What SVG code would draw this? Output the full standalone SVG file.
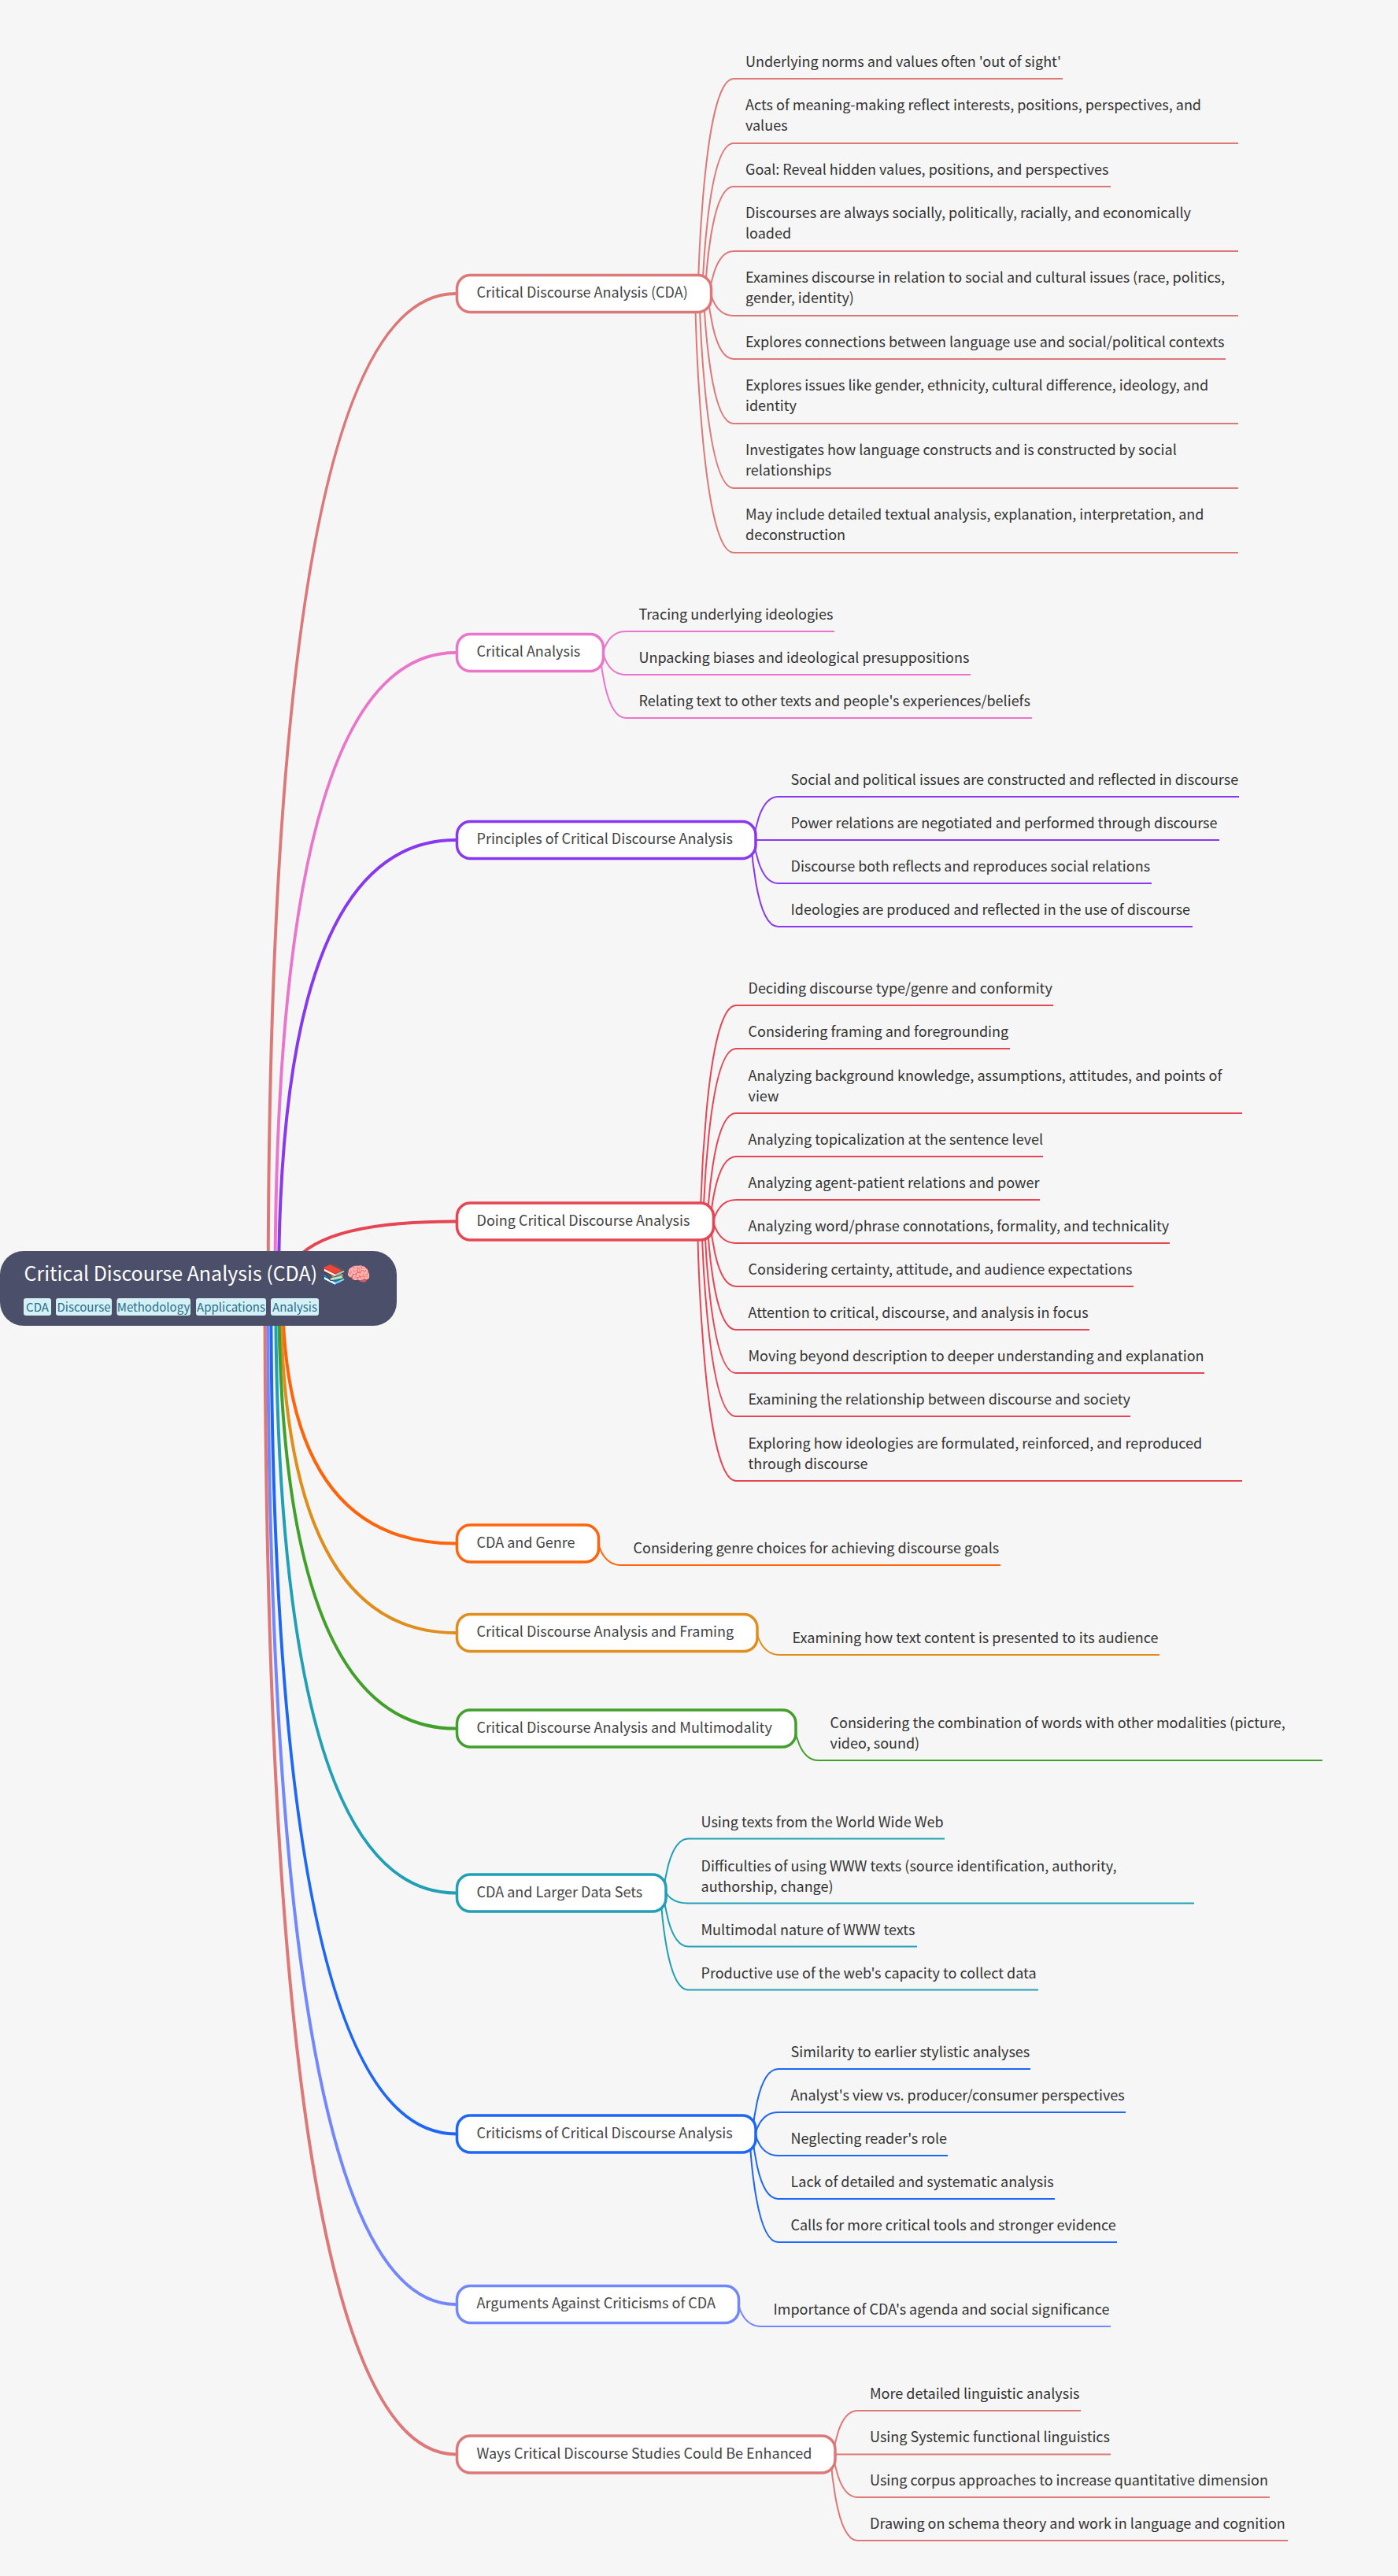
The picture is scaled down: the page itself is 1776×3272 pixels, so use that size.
<svg xmlns="http://www.w3.org/2000/svg" width="1776" height="3272" viewBox="0 0 1776 3272">
<style>
text{font-family:"Noto Sans CJK SC","Noto Sans",sans-serif}
.bg{fill:#f6f6f6}
.n{fill:#fff;stroke-width:3.5}
.t{font-size:18px;fill:#444446}
.c{font-size:18px;fill:#333}
.m{fill:none;stroke-width:4}
.s{fill:none;stroke-width:2}
.root{fill:#4c4f69}
.rt{font-size:25px;fill:#fff}
.tag{fill:#d6f0f8}
.tt{font-size:15px;fill:#276f86;text-anchor:middle}
.c0{stroke:#dd7878}.c1{stroke:#ea76cb}.c2{stroke:#8839ef}.c3{stroke:#e64553}.c4{stroke:#fe640b}.c5{stroke:#df8e1d}.c6{stroke:#40a02b}.c7{stroke:#209fb5}.c8{stroke:#1e66f5}.c9{stroke:#7287fd}
</style>
<rect class="bg" width="1776" height="3272"/>
<g id="connectors">
<path class="m c0" d="M340.7 1636Q340.7 373 579 373"/>
<path class="m c1" d="M349.5 1636Q349.5 829 579 829"/>
<path class="m c2" d="M354 1636Q354 1067 579 1067"/>
<path class="m c3" d="M363.4 1636Q363.4 1551.5 579 1551.5"/>
<path class="m c4" d="M358.8 1636Q358.8 1960.6 579 1960.6"/>
<path class="m c5" d="M356.6 1636Q356.6 2074 579 2074"/>
<path class="m c6" d="M354.2 1636Q354.2 2195.6 579 2195.6"/>
<path class="m c7" d="M350.2 1636Q350.2 2404.5 579 2404.5"/>
<path class="m c8" d="M344.3 1636Q344.3 2710.5 579 2710.5"/>
<path class="m c9" d="M340.1 1636Q340.1 2927 579 2927"/>
<path class="m c0" d="M336.5 1636Q336.5 3117.5 579 3117.5"/>
<path class="s c0" d="M886.8 373C886.8 373 891.8 100 932 100H1350"/>
<path class="s c0" d="M892.3 373C892.3 373 897.3 182 932 182H1573"/>
<path class="s c0" d="M895.9 373C895.9 373 900.9 237 932 237H1411"/>
<path class="s c0" d="M901.4 373C901.4 373 906.4 319 932 319H1573"/>
<path class="s c0" d="M903.1 373C903.1 373 908.1 401 932 401H1573"/>
<path class="s c0" d="M899.5 373C899.5 373 904.5 456 932 456H1557"/>
<path class="s c0" d="M894 373C894 373 899 538 932 538H1573"/>
<path class="s c0" d="M888.5 373C888.5 373 893.5 620 932 620H1573"/>
<path class="s c0" d="M883.1 373C883.1 373 888.1 702 932 702H1573"/>
<path class="s c1" d="M766.2 829C766.2 829 771.2 802 795 802H1060"/>
<path class="s c1" d="M766.1 829C766.1 829 771.1 857 795 857H1233"/>
<path class="s c1" d="M762.5 829C762.5 829 767.5 912 795 912H1311"/>
<path class="s c2" d="M957.8 1067C957.8 1067 962.8 1012 988.5 1012H1574"/>
<path class="s c2" d="M961 1067H1549"/>
<path class="s c2" d="M957.8 1067C957.8 1067 962.8 1122 988.5 1122H1463"/>
<path class="s c2" d="M954.2 1067C954.2 1067 959.2 1177 988.5 1177H1515"/>
<path class="s c3" d="M889.7 1551.5C889.7 1551.5 894.7 1277 935 1277H1338"/>
<path class="s c3" d="M893.4 1551.5C893.4 1551.5 898.4 1332 935 1332H1283"/>
<path class="s c3" d="M898.8 1551.5C898.8 1551.5 903.8 1414 935 1414H1578"/>
<path class="s c3" d="M902.5 1551.5C902.5 1551.5 907.5 1469 935 1469H1325"/>
<path class="s c3" d="M906.2 1551.5C906.2 1551.5 911.2 1524 935 1524H1321"/>
<path class="s c3" d="M906.2 1551.5C906.2 1551.5 911.2 1579 935 1579H1486"/>
<path class="s c3" d="M902.5 1551.5C902.5 1551.5 907.5 1634 935 1634H1440"/>
<path class="s c3" d="M898.8 1551.5C898.8 1551.5 903.8 1689 935 1689H1384"/>
<path class="s c3" d="M895.2 1551.5C895.2 1551.5 900.2 1744 935 1744H1530"/>
<path class="s c3" d="M891.5 1551.5C891.5 1551.5 896.5 1799 935 1799H1436"/>
<path class="s c3" d="M886 1551.5C886 1551.5 891 1881 935 1881H1578"/>
<path class="s c4" d="M760.2 1960.6C760.2 1960.6 765.2 1988 789 1988H1271"/>
<path class="s c5" d="M961.6 2074C961.6 2074 966.6 2102 990.5 2102H1473"/>
<path class="s c6" d="M1009.8 2195.6C1009.8 2195.6 1014.8 2236 1039.5 2236H1680"/>
<path class="s c7" d="M842.9 2404.5C842.9 2404.5 847.9 2335.5 874.5 2335.5H1200"/>
<path class="s c7" d="M846.6 2404.5C846.6 2404.5 851.6 2417.5 874.5 2417.5H1517"/>
<path class="s c7" d="M843 2404.5C843 2404.5 848 2472.5 874.5 2472.5H1165"/>
<path class="s c7" d="M839.3 2404.5C839.3 2404.5 844.3 2527.5 874.5 2527.5H1319"/>
<path class="s c8" d="M956 2710.5C956 2710.5 961 2628 988.5 2628H1309"/>
<path class="s c8" d="M959.7 2710.5C959.7 2710.5 964.7 2683 988.5 2683H1430"/>
<path class="s c8" d="M959.7 2710.5C959.7 2710.5 964.7 2738 988.5 2738H1204"/>
<path class="s c8" d="M956 2710.5C956 2710.5 961 2793 988.5 2793H1340"/>
<path class="s c8" d="M952.3 2710.5C952.3 2710.5 957.3 2848 988.5 2848H1419"/>
<path class="s c9" d="M938.1 2927C938.1 2927 943.1 2955 967 2955H1411"/>
<path class="s c0" d="M1058.8 3117.5C1058.8 3117.5 1063.8 3062 1089.5 3062H1373"/>
<path class="s c0" d="M1062 3117.5H1411"/>
<path class="s c0" d="M1058.8 3117.5C1058.8 3117.5 1063.8 3172 1089.5 3172H1613"/>
<path class="s c0" d="M1055.2 3117.5C1055.2 3117.5 1060.2 3227 1089.5 3227H1636"/>
</g>
<g id="root">
<rect class="root" x="0" y="1589" width="504" height="95" rx="30"/>
<text class="rt" x="30.6" y="1627">Critical Discourse Analysis (CDA) 📚🧠</text>
<rect class="tag" x="30" y="1649" width="35" height="22" rx="3"/><text class="tt" x="47.5" y="1666">CDA</text>
<rect class="tag" x="71" y="1649" width="71" height="22" rx="3"/><text class="tt" x="106.5" y="1666">Discourse</text>
<rect class="tag" x="148.5" y="1649" width="93.5" height="22" rx="3"/><text class="tt" x="195" y="1666">Methodology</text>
<rect class="tag" x="249" y="1649" width="89" height="22" rx="3"/><text class="tt" x="293.5" y="1666">Applications</text>
<rect class="tag" x="344" y="1649" width="61" height="22" rx="3"/><text class="tt" x="374.5" y="1666">Analysis</text>
</g>
<g id="n1"><rect class="n c0" x="580.5" y="349.5" width="323" height="47" rx="17"/><text class="t" x="605.5" y="378">Critical Discourse Analysis (CDA)</text></g>
<g id="n1-kids">
<text class="c" x="947" y="85">Underlying norms and values often 'out of sight'</text>
<text class="c" x="947" y="140">Acts of meaning-making reflect interests, positions, perspectives, and</text>
<text class="c" x="947" y="166">values</text>
<text class="c" x="947" y="222">Goal: Reveal hidden values, positions, and perspectives</text>
<text class="c" x="947" y="277">Discourses are always socially, politically, racially, and economically</text>
<text class="c" x="947" y="303">loaded</text>
<text class="c" x="947" y="359">Examines discourse in relation to social and cultural issues (race, politics,</text>
<text class="c" x="947" y="385">gender, identity)</text>
<text class="c" x="947" y="441">Explores connections between language use and social/political contexts</text>
<text class="c" x="947" y="496">Explores issues like gender, ethnicity, cultural difference, ideology, and</text>
<text class="c" x="947" y="522">identity</text>
<text class="c" x="947" y="578">Investigates how language constructs and is constructed by social</text>
<text class="c" x="947" y="604">relationships</text>
<text class="c" x="947" y="660">May include detailed textual analysis, explanation, interpretation, and</text>
<text class="c" x="947" y="686">deconstruction</text>
</g>
<g id="n2"><rect class="n c1" x="580.5" y="805.5" width="186" height="47" rx="17"/><text class="t" x="605.5" y="834">Critical Analysis</text></g>
<g id="n2-kids">
<text class="c" x="811.5" y="787">Tracing underlying ideologies</text>
<text class="c" x="811.5" y="842">Unpacking biases and ideological presuppositions</text>
<text class="c" x="811.5" y="897">Relating text to other texts and people's experiences/beliefs</text>
</g>
<g id="n3"><rect class="n c2" x="580.5" y="1043.5" width="379.5" height="47" rx="17"/><text class="t" x="605.5" y="1072">Principles of Critical Discourse Analysis</text></g>
<g id="n3-kids">
<text class="c" x="1004.5" y="997">Social and political issues are constructed and reflected in discourse</text>
<text class="c" x="1004.5" y="1052">Power relations are negotiated and performed through discourse</text>
<text class="c" x="1004.5" y="1107">Discourse both reflects and reproduces social relations</text>
<text class="c" x="1004.5" y="1162">Ideologies are produced and reflected in the use of discourse</text>
</g>
<g id="n4"><rect class="n c3" x="580.5" y="1528" width="326" height="47" rx="17"/><text class="t" x="605.5" y="1556.5">Doing Critical Discourse Analysis</text></g>
<g id="n4-kids">
<text class="c" x="950.5" y="1262">Deciding discourse type/genre and conformity</text>
<text class="c" x="950.5" y="1317">Considering framing and foregrounding</text>
<text class="c" x="950.5" y="1373">Analyzing background knowledge, assumptions, attitudes, and points of</text>
<text class="c" x="950.5" y="1399">view</text>
<text class="c" x="950.5" y="1454">Analyzing topicalization at the sentence level</text>
<text class="c" x="950.5" y="1509">Analyzing agent-patient relations and power</text>
<text class="c" x="950.5" y="1564">Analyzing word/phrase connotations, formality, and technicality</text>
<text class="c" x="950.5" y="1619">Considering certainty, attitude, and audience expectations</text>
<text class="c" x="950.5" y="1674">Attention to critical, discourse, and analysis in focus</text>
<text class="c" x="950.5" y="1729">Moving beyond description to deeper understanding and explanation</text>
<text class="c" x="950.5" y="1784">Examining the relationship between discourse and society</text>
<text class="c" x="950.5" y="1840">Exploring how ideologies are formulated, reinforced, and reproduced</text>
<text class="c" x="950.5" y="1866">through discourse</text>
</g>
<g id="n5"><rect class="n c4" x="580.5" y="1937" width="180" height="47" rx="17"/><text class="t" x="605.5" y="1965.6">CDA and Genre</text></g>
<g id="n5-kids"><text class="c" x="804.5" y="1973">Considering genre choices for achieving discourse goals</text></g>
<g id="n6"><rect class="n c5" x="580.5" y="2050.5" width="381.5" height="47" rx="17"/><text class="t" x="605.5" y="2079">Critical Discourse Analysis and Framing</text></g>
<g id="n6-kids"><text class="c" x="1006.5" y="2087">Examining how text content is presented to its audience</text></g>
<g id="n7"><rect class="n c6" x="580.5" y="2172" width="430.5" height="47" rx="17"/><text class="t" x="605.5" y="2200.6">Critical Discourse Analysis and Multimodality</text></g>
<g id="n7-kids">
<text class="c" x="1054.5" y="2195">Considering the combination of words with other modalities (picture,</text>
<text class="c" x="1054.5" y="2221">video, sound)</text>
</g>
<g id="n8"><rect class="n c7" x="580.5" y="2381" width="265.5" height="47" rx="17"/><text class="t" x="605.5" y="2409.5">CDA and Larger Data Sets</text></g>
<g id="n8-kids">
<text class="c" x="890.5" y="2320.5">Using texts from the World Wide Web</text>
<text class="c" x="890.5" y="2376.5">Difficulties of using WWW texts (source identification, authority,</text>
<text class="c" x="890.5" y="2402.5">authorship, change)</text>
<text class="c" x="890.5" y="2457.5">Multimodal nature of WWW texts</text>
<text class="c" x="890.5" y="2512.5">Productive use of the web's capacity to collect data</text>
</g>
<g id="n9"><rect class="n c8" x="580.5" y="2687" width="379.5" height="47" rx="17"/><text class="t" x="605.5" y="2715.5">Criticisms of Critical Discourse Analysis</text></g>
<g id="n9-kids">
<text class="c" x="1004.5" y="2613">Similarity to earlier stylistic analyses</text>
<text class="c" x="1004.5" y="2668">Analyst's view vs. producer/consumer perspectives</text>
<text class="c" x="1004.5" y="2723">Neglecting reader's role</text>
<text class="c" x="1004.5" y="2778">Lack of detailed and systematic analysis</text>
<text class="c" x="1004.5" y="2833">Calls for more critical tools and stronger evidence</text>
</g>
<g id="n10"><rect class="n c9" x="580.5" y="2903.5" width="358" height="47" rx="17"/><text class="t" x="605.5" y="2932">Arguments Against Criticisms of CDA</text></g>
<g id="n10-kids"><text class="c" x="982.5" y="2940">Importance of CDA's agenda and social significance</text></g>
<g id="n11"><rect class="n c0" x="580.5" y="3094" width="480.5" height="47" rx="17"/><text class="t" x="605.5" y="3122.5">Ways Critical Discourse Studies Could Be Enhanced</text></g>
<g id="n11-kids">
<text class="c" x="1105" y="3047">More detailed linguistic analysis</text>
<text class="c" x="1105" y="3102">Using Systemic functional linguistics</text>
<text class="c" x="1105" y="3157">Using corpus approaches to increase quantitative dimension</text>
<text class="c" x="1105" y="3212">Drawing on schema theory and work in language and cognition</text>
</g>
</svg>
